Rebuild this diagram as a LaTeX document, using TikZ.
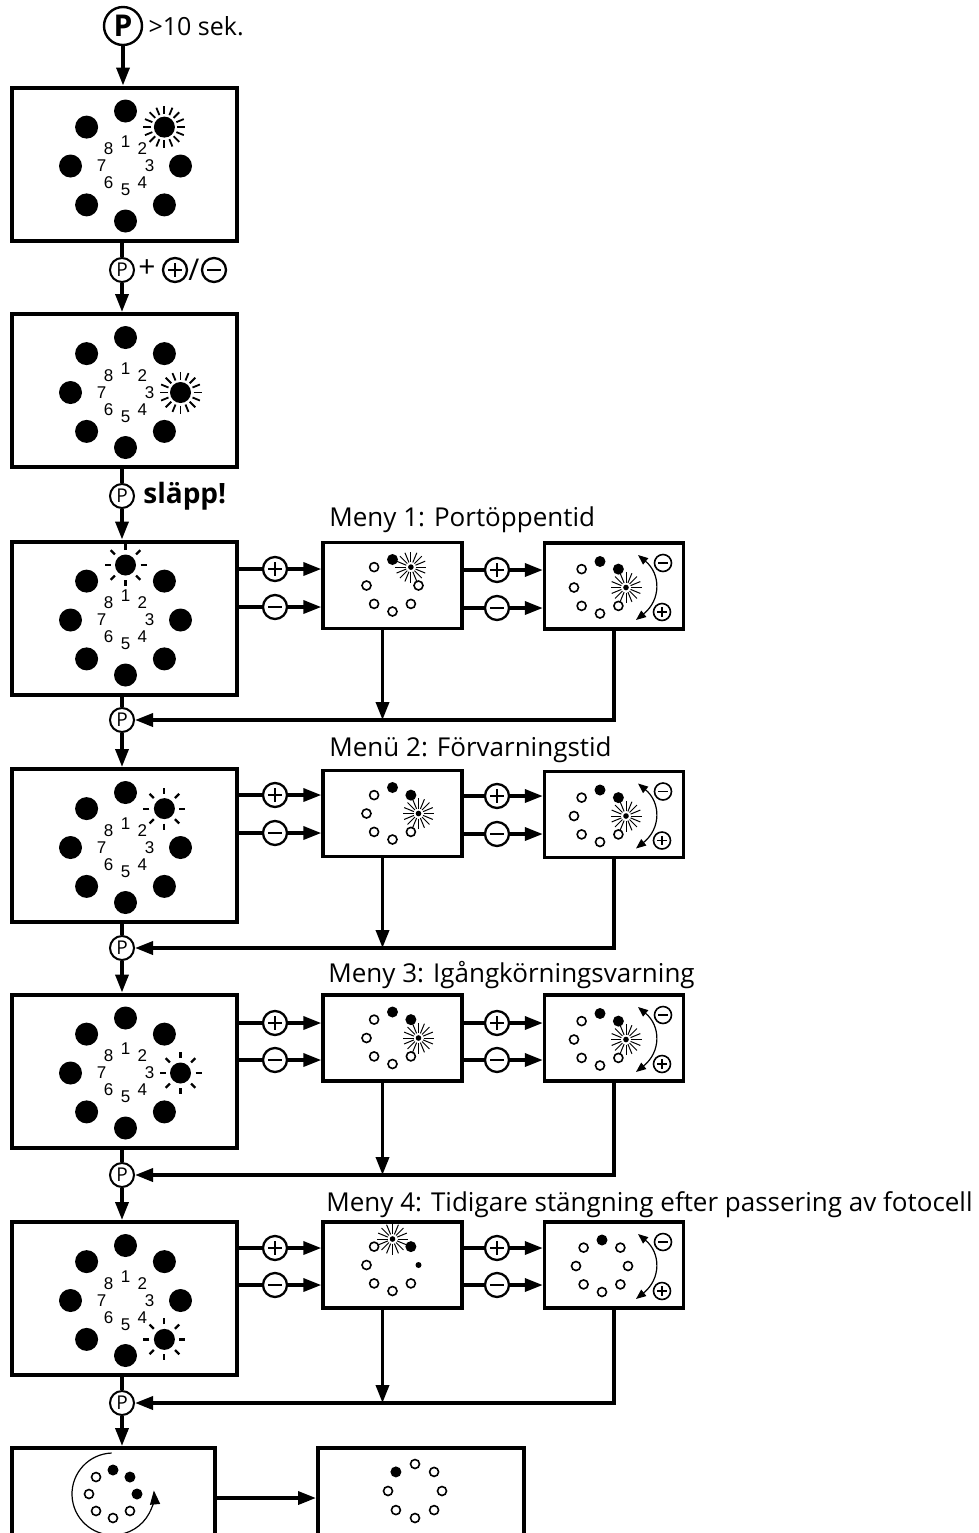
\documentclass[tikz,border=0pt]{standalone}
\usepackage{fontspec}
\setmainfont{Open Sans}
\newfontfamily\digitfont{Liberation Sans}
\usetikzlibrary{positioning,calc,arrows.meta}

\tikzset{
  panel/.style={draw,line width=2pt,inner sep=0pt,minimum width=112.5pt,minimum height=76.5pt},
  minipanel/.style={draw,line width=1.7pt,inner sep=0pt,minimum width=69.5pt,minimum height=43pt},
  link/.style={line width=1.75pt},
  linkarr/.style={link,-{Triangle[length=9pt,width=6.5pt]}},
  pkey/.style={draw,circle,fill=white,line width=1pt,inner sep=0pt,minimum size=12pt,font=\fontsize{9.5}{10}\selectfont},
  pmbase/.style={draw,circle,fill=white,line width=1.15pt,inner sep=0pt,minimum size=12pt},
  pmsmall/.style={line width=0.8pt,minimum size=8.5pt},
  pmplus/.style={pmbase,path picture={
    \draw[line width=0.55pt] ($(path picture bounding box.west)!0.22!(path picture bounding box.east)$) -- ($(path picture bounding box.west)!0.78!(path picture bounding box.east)$)
      ($(path picture bounding box.north)!0.22!(path picture bounding box.south)$) -- ($(path picture bounding box.north)!0.78!(path picture bounding box.south)$);}},
  pmminus/.style={pmbase,path picture={
    \draw[line width=0.55pt] ($(path picture bounding box.west)!0.22!(path picture bounding box.east)$) -- ($(path picture bounding box.west)!0.78!(path picture bounding box.east)$);}},
  menutitle/.style={anchor=west,inner sep=0pt,font=\fontsize{13}{15}\selectfont},
  ledno/.style={inner sep=0pt,font=\digitfont\fontsize{8.5}{8.5}\selectfont},
  twoway/.style={line width=0.6pt,{Triangle[length=5pt,width=4pt]}-{Triangle[length=5pt,width=4pt]}},
}

% ring of 8 big leds with numbers: centre, flashing led, ray step, inner ray radius, ray width
\newcommand\bigleds[5]{%
  \foreach \i in {1,...,8}{%
    \pgfmathsetmacro\ang{-90+45*(\i-1)}
    \node[ledno] (#1-\i) at ($(#1)+(\ang:24)$) {\i};
    \ifnum\i=#2\relax
      \fill ($(#1)+(\ang:55)$) coordinate (#1-sun) circle (10.5);
      \foreach \a in {0,#3,...,359} \draw[line width=#5] ($(#1-sun)+(\a:#4)$) -- ($(#1-sun)+(\a:21)$);
    \else
      \fill ($(#1)+(\ang:55)$) circle (11.5);
    \fi}}

% ring of 8 small leds: centre, radius, states (0 off, 1 on, 2 flashing, 3 dim)
\newcommand\miniled[3]{%
  \foreach \st [count=\i] in {#3}{%
    \pgfmathsetmacro\ang{-90+45*(\i-1)}
    \coordinate (#1-\i) at ($(#1)+(\ang:#2)$);
    \ifcase\st\relax
      \draw[line width=0.8pt,fill=white] (#1-\i) circle (4.5);
    \or
      \fill (#1-\i) circle (5.5);
    \or
      \fill (#1-\i) circle (2.8);
      \foreach \a in {0,22.5,...,359} \draw[line width=0.5pt] ($(#1-\i)+(\a:5)$) -- ($(#1-\i)+(\a:15.5)$);
    \or
      \fill (#1-\i) circle (3);
    \fi}}

% minus/plus with double arrow inside a small panel
\newcommand\stepper[1]{%
  \node[pmminus,pmsmall] (#1m) at ($(#1)+(49,-23)$) {};
  \node[pmplus,pmsmall] (#1p) at ($(#1)+(48,26)$) {};
  \draw[twoway] ($(#1)+(24,-31)$) .. controls +(23,19) and +(25,-20) .. ($(#1)+(22,34)$);}

\begin{document}
\begin{tikzpicture}[x=0.5pt,y=-0.5pt]
\useasboundingbox (0,0) rectangle (979,1533);
\clip (0,0) rectangle (979,1533);

% start
\node[draw,circle,line width=1.2pt,minimum size=19pt,inner sep=0pt,font=\bfseries\fontsize{15}{15}\selectfont] (k0) at (123,26) {P};
\node[right=2.5pt of k0,inner sep=0pt,font=\fontsize{12.5}{14}\selectfont] (t0) {>10 sek.};
\node[panel] (s1) at (124.5,164) {};
\coordinate (r1) at ($(s1)+(1,2)$);
\bigleds{r1}{2}{22.5}{13}{0.9pt}
\draw[linkarr] (k0) -- (k0 |- s1.north);

% P + plus/minus
\node[pkey] (k1) at (122,270) {P};
\node[inner sep=0pt,font=\fontsize{15}{15}\selectfont] (t1) at (147,269) {+};
\node[pmplus] (k1p) at (175,270) {};
\node[inner sep=0pt,font=\fontsize{15}{15}\selectfont] (t1s) at (194,270) {/};
\node[pmminus] (k1m) at (214,270) {};
\draw[link] (s1.south -| k1) -- (k1);
\node[panel] (s2) at (124.5,390.5) {};
\coordinate (r2) at ($(s2)+(1,2)$);
\bigleds{r2}{3}{22.5}{13}{0.9pt}
\draw[linkarr] (k1) -- (k1 |- s2.north);

% release
\node[pkey] (k2) at (122,496) {P};
\node[right=4pt of k2,inner sep=0pt,font=\bfseries\fontsize{14}{16}\selectfont] (t2) {släpp!};
\draw[link] (s2.south -| k2) -- (k2);

% menu 1
\node[menutitle] (h1) at (329,520) {Meny 1: Portöppentid};
\node[panel] (m1) at (124.5,618) {};
\coordinate (r3) at ($(m1)+(1,2)$);
\bigleds{r3}{1}{45}{15}{1.1pt}
\draw[linkarr] (k2) -- (k2 |- m1.north);
\node[minipanel] (a1) at (392.5,585.5) {};
\node[minipanel] (b1) at (614,586) {};
\miniled{a1}{26}{1,2,0,0,0,0,0,0}
\coordinate (c1) at ($(b1)+(-14,1.5)$);
\miniled{c1}{26}{1,1,2,0,0,0,0,0}
\stepper{b1}
\node[pmplus] (p1) at (275,569) {};
\node[pmminus] (n1) at (275,607) {};
\node[pmplus] (p1b) at (497,570) {};
\node[pmminus] (n1b) at (497,608) {};
\draw[link] (m1.east |- p1) -- (p1);
\draw[linkarr] (p1) -- (a1.west |- p1);
\draw[link] (m1.east |- n1) -- (n1);
\draw[linkarr] (n1) -- (a1.west |- n1);
\draw[link] (a1.east |- p1b) -- (p1b);
\draw[linkarr] (p1b) -- (b1.west |- p1b);
\draw[link] (a1.east |- n1b) -- (n1b);
\draw[linkarr] (n1b) -- (b1.west |- n1b);
\node[pkey] (k3) at (122,720) {P};
\draw[link] (m1.south -| k3) -- (k3);
\draw[linkarr] ([xshift=-5pt]a1.south) -- ([xshift=-5pt]a1.south |- k3);
\draw[linkarr] (b1.south) |- (k3);

% menu 2
\node[menutitle] (h2) at (329,750) {Menü 2: Förvarningstid};
\node[panel] (m2) at (124.5,845.5) {};
\coordinate (r4) at ($(m2)+(1,2)$);
\bigleds{r4}{2}{45}{15}{1.1pt}
\draw[linkarr] (k3) -- (k3 |- m2.north);
\node[minipanel] (a2) at (392.5,813.5) {};
\node[minipanel] (b2) at (614,814.5) {};
\miniled{a2}{26}{1,1,2,0,0,0,0,0}
\coordinate (c2) at ($(b2)+(-14,1.5)$);
\miniled{c2}{26}{1,1,2,0,0,0,0,0}
\stepper{b2}
\node[pmplus] (p2) at (275,795) {};
\node[pmminus] (n2) at (275,833) {};
\node[pmplus] (p2b) at (497,796) {};
\node[pmminus] (n2b) at (497,834) {};
\draw[link] (m2.east |- p2) -- (p2);
\draw[linkarr] (p2) -- (a2.west |- p2);
\draw[link] (m2.east |- n2) -- (n2);
\draw[linkarr] (n2) -- (a2.west |- n2);
\draw[link] (a2.east |- p2b) -- (p2b);
\draw[linkarr] (p2b) -- (b2.west |- p2b);
\draw[link] (a2.east |- n2b) -- (n2b);
\draw[linkarr] (n2b) -- (b2.west |- n2b);
\node[pkey] (k4) at (122,948) {P};
\draw[link] (m2.south -| k4) -- (k4);
\draw[linkarr] ([xshift=-5pt]a2.south) -- ([xshift=-5pt]a2.south |- k4);
\draw[linkarr] (b2.south) |- (k4);

% menu 3
\node[menutitle] (h3) at (328,975) {Meny 3: Igångkörningsvarning};
\node[panel] (m3) at (124.5,1071) {};
\coordinate (r5) at ($(m3)+(1,2)$);
\bigleds{r5}{3}{45}{15}{1.1pt}
\draw[linkarr] (k4) -- (k4 |- m3.north);
\node[minipanel] (a3) at (392.5,1038) {};
\node[minipanel] (b3) at (614,1038) {};
\miniled{a3}{26}{1,1,2,0,0,0,0,0}
\coordinate (c3) at ($(b3)+(-14,1.5)$);
\miniled{c3}{26}{1,1,2,0,0,0,0,0}
\stepper{b3}
\node[pmplus] (p3) at (275,1023) {};
\node[pmminus] (n3) at (275,1060) {};
\node[pmplus] (p3b) at (497,1023) {};
\node[pmminus] (n3b) at (497,1060) {};
\draw[link] (m3.east |- p3) -- (p3);
\draw[linkarr] (p3) -- (a3.west |- p3);
\draw[link] (m3.east |- n3) -- (n3);
\draw[linkarr] (n3) -- (a3.west |- n3);
\draw[link] (a3.east |- p3b) -- (p3b);
\draw[linkarr] (p3b) -- (b3.west |- p3b);
\draw[link] (a3.east |- n3b) -- (n3b);
\draw[linkarr] (n3b) -- (b3.west |- n3b);
\node[pkey] (k5) at (122,1175) {P};
\draw[link] (m3.south -| k5) -- (k5);
\draw[linkarr] ([xshift=-5pt]a3.south) -- ([xshift=-5pt]a3.south |- k5);
\draw[linkarr] (b3.south) |- (k5);

% menu 4
\node[menutitle] (h4) at (326,1205) {Meny 4: Tidigare stängning efter passering av fotocell};
\node[panel] (m4) at (124.5,1298.5) {};
\coordinate (r6) at ($(m4)+(1,2)$);
\bigleds{r6}{4}{45}{15}{1.1pt}
\draw[linkarr] (k5) -- (k5 |- m4.north);
\node[minipanel] (a4) at (392.5,1265) {};
\node[minipanel] (b4) at (614,1265) {};
\miniled{a4}{26}{2,1,3,0,0,0,0,0}
\coordinate (c4) at ($(b4)+(-12,1)$);
\miniled{c4}{26}{1,0,0,0,0,0,0,0}
\stepper{b4}
\node[pmplus] (p4) at (275,1248) {};
\node[pmminus] (n4) at (275,1285) {};
\node[pmplus] (p4b) at (497,1248) {};
\node[pmminus] (n4b) at (497,1285) {};
\draw[link] (m4.east |- p4) -- (p4);
\draw[linkarr] (p4) -- (a4.west |- p4);
\draw[link] (m4.east |- n4) -- (n4);
\draw[linkarr] (n4) -- (a4.west |- n4);
\draw[link] (a4.east |- p4b) -- (p4b);
\draw[linkarr] (p4b) -- (b4.west |- p4b);
\draw[link] (a4.east |- n4b) -- (n4b);
\draw[linkarr] (n4b) -- (b4.west |- n4b);
\node[pkey] (k6) at (122,1403) {P};
\draw[link] (m4.south -| k6) -- (k6);
\draw[linkarr] ([xshift=-5pt]a4.south) -- ([xshift=-5pt]a4.south |- k6);
\draw[linkarr] (b4.south) |- (k6);

% end
\node[panel,minimum width=101.5pt,minimum height=50pt] (e1) at (113.5,1498) {};
\node[panel,minimum width=103pt,minimum height=50pt] (e2) at (421,1498) {};
\draw[linkarr] (k6) -- (k6 |- e1.north);
\draw[linkarr] (e1.east) -- (e2.west);
\coordinate (c5) at (113,1494);
\miniled{c5}{24}{1,1,1,0,0,0,0,0}
\draw[line width=0.6pt,-{Triangle[length=7pt,width=5pt]}] ($(c5)+(-92:41)$) arc[start angle=-92,end angle=-365,radius=41];
\coordinate (c6) at (415,1491);
\miniled{c6}{27}{0,0,0,0,0,0,0,1}
\end{tikzpicture}
\end{document}
